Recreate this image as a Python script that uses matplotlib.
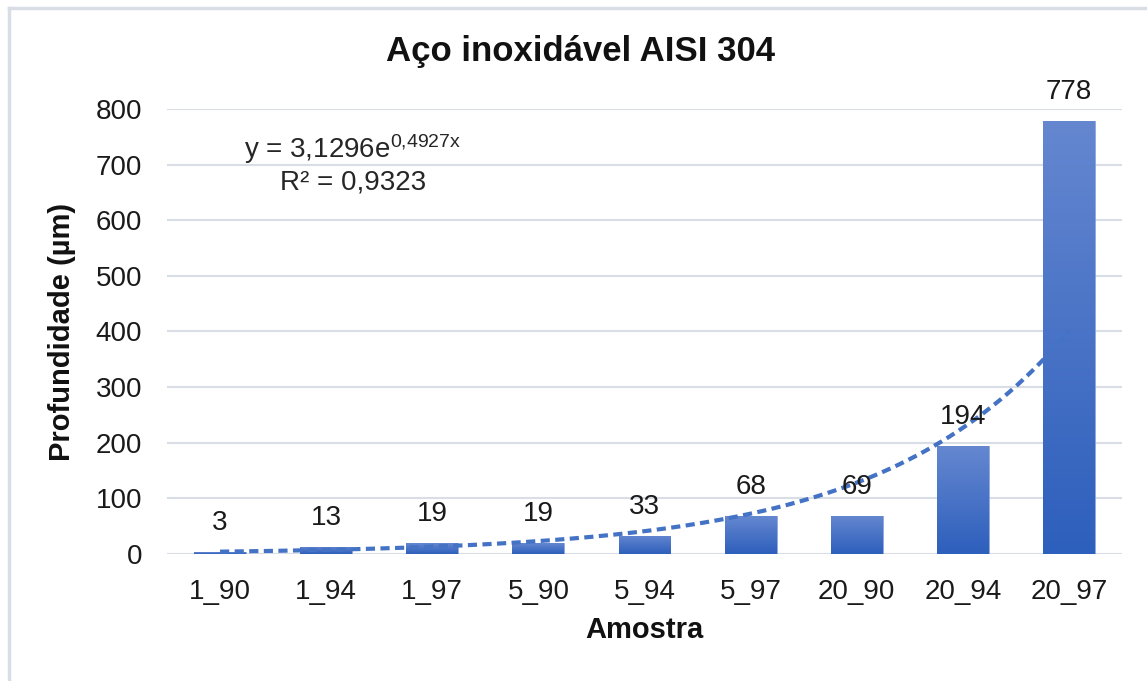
import numpy as np
import matplotlib.pyplot as plt
from matplotlib.colors import LinearSegmentedColormap
from matplotlib.lines import Line2D

plt.rcParams['font.family'] = ['Liberation Sans', 'DejaVu Sans']
plt.rcParams['mathtext.default'] = 'regular'

amostras = ['1_90', '1_94', '1_97', '5_90', '5_94', '5_97', '20_90', '20_94', '20_97']
profundidade = [3, 13, 19, 19, 33, 68, 69, 194, 778]
eq_text = 'y = 3,1296e$^{0{,}4927x}$'
r2_text = 'R² = 0,9323'

fig = plt.figure(figsize=(11.47, 6.81), dpi=100)
ax = fig.add_axes([0.1456, 0.1865, 0.8326, 0.6535])

pos = np.arange(len(amostras))
bars = ax.bar(pos, profundidade, width=0.49, color='#4472C4', zorder=2)

# vertical gradient fill inside each bar
grad = LinearSegmentedColormap.from_list('g', ['#2D5FBC', '#6587D0'])
img = np.linspace(0, 1, 256).reshape(-1, 1)
for b in bars:
    x0, y0 = b.get_x(), b.get_y()
    w, h = b.get_width(), b.get_height()
    b.set_facecolor('none')
    b.set_edgecolor('#7E9BD8')
    b.set_linewidth(0.6)
    im = ax.imshow(img, cmap=grad, origin='lower', aspect='auto',
                   extent=(x0, x0 + w, y0, y0 + h), zorder=2)
    im.set_clip_path(b)

# exponential trendline fitted on the sample values (x = 1..n)
xn = pos + 1
b_coef, ln_a = np.polyfit(xn, np.log(profundidade), 1)
xs = np.linspace(1, len(amostras), 200)
ax.plot(xs - 1, np.exp(ln_a) * np.exp(b_coef * xs), color='#4472C4',
        lw=3, ls=(0, (2.2, 1.3)), zorder=3)

for p, v in zip(pos, profundidade):
    ax.annotate(str(v), (p, v), xytext=(0, 29), textcoords='offset pixels',
                ha='center', va='center', fontsize=20, color='#1a1a1a',
                annotation_clip=False, zorder=4)

ax.text(1.25, 727, eq_text, ha='center', va='center', fontsize=20, color='#262626')
ax.text(1.25, 667, r2_text, ha='center', va='center', fontsize=20, color='#262626')

ax.set_xlim(-0.5, len(amostras) - 0.5)
ax.set_ylim(0, 800)
ax.set_yticks(np.arange(0, 801, 100))
ax.set_xticks(pos)
ax.set_xticklabels(amostras)
ax.tick_params(length=0, labelsize=20, colors='#1a1a1a', pad=18)
ax.tick_params(axis='x', pad=18)
ax.grid(axis='y', color='#D9DDE5', lw=1.5, zorder=0)
ax.set_axisbelow(True)
for s in ax.spines.values():
    s.set_visible(False)

fig.text(580 / 1147, 1 - 52 / 681, 'Aço inoxidável AISI 304', fontsize=25,
         fontweight='bold', color='#111111', ha='center', va='center')
ax.set_xlabel('Amostra', fontsize=21, fontweight='bold', color='#111111', labelpad=8)
ax.set_ylabel('Profundidade (µm)', fontsize=21, fontweight='bold', color='#111111', labelpad=14)

# chart frame: top and left edges
fig.add_artist(Line2D([9 / 1147, 1], [1 - 8 / 681, 1 - 8 / 681], color='#D9DDE6', lw=2.5))
fig.add_artist(Line2D([9 / 1147, 9 / 1147], [0, 1 - 8 / 681], color='#D9DDE6', lw=2.5))

fig.savefig('out.png', dpi=100)
